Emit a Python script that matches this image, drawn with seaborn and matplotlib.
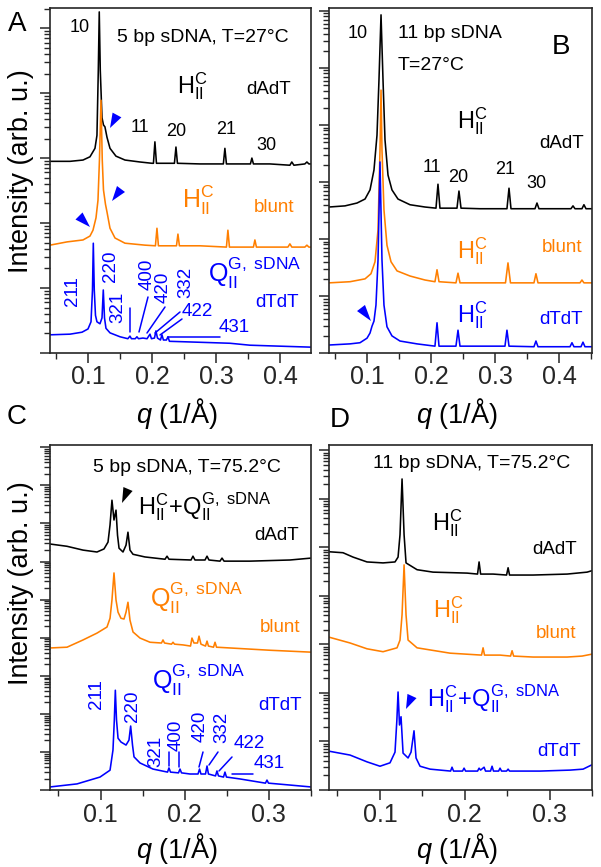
import numpy as np
import pandas as pd
import matplotlib
matplotlib.use("Agg")
import matplotlib.pyplot as plt
import seaborn as sns
from matplotlib.patches import Polygon
from matplotlib.lines import Line2D
from matplotlib.ticker import LogLocator, NullFormatter, FixedLocator, MultipleLocator, FormatStrFormatter

# curves: (q, log10 intensity)
a_dadt = [(0.040, 2.95), (0.0713, 2.95), (0.0916, 2.97), (0.1025, 3.02), (0.1103, 3.15), (0.1134, 3.35),
          (0.1155, 4.35), (0.1170, 5.25), (0.1186, 4.35), (0.1213, 3.62), (0.1236, 3.51), (0.1259, 3.48),
          (0.1291, 3.32), (0.1338, 3.15), (0.1431, 3.03), (0.1572, 2.97), (0.1806, 2.94), (0.1994, 2.92),
          (0.2017, 2.92), (0.2040, 3.25), (0.2064, 2.92), (0.2197, 2.92), (0.2345, 2.92), (0.2369, 3.17),
          (0.2392, 2.92), (0.2744, 2.91), (0.3110, 2.91), (0.3134, 3.15), (0.3158, 2.91), (0.3533, 2.91),
          (0.3556, 3.00), (0.3580, 2.91), (0.3838, 2.91), (0.4150, 2.89), (0.4180, 2.94), (0.4213, 2.89),
          (0.4384, 2.91), (0.4416, 2.94), (0.4447, 2.91), (0.4480, 2.91)]
a_blunt = [(0.040, 1.66), (0.0666, 1.71), (0.0916, 1.74), (0.1025, 1.80), (0.1072, 1.89), (0.1119, 2.08),
           (0.1150, 2.35), (0.1173, 2.97), (0.1197, 3.89), (0.1217, 2.97), (0.1236, 2.51), (0.1267, 2.29),
           (0.1291, 2.17), (0.1338, 1.92), (0.1416, 1.77), (0.1572, 1.69), (0.1884, 1.66), (0.2048, 1.65),
           (0.2072, 1.92), (0.2095, 1.65), (0.2377, 1.65), (0.2400, 1.83), (0.2423, 1.65), (0.2744, 1.65),
           (0.3158, 1.63), (0.3181, 1.89), (0.3205, 1.63), (0.3580, 1.63), (0.3603, 1.74), (0.3627, 1.63),
           (0.3838, 1.63), (0.4119, 1.63), (0.4150, 1.68), (0.4180, 1.63), (0.4384, 1.63), (0.4416, 1.66),
           (0.4447, 1.63), (0.4480, 1.63)]
a_dtdt = [(0.040, 0.28), (0.0713, 0.29), (0.0900, 0.32), (0.0994, 0.37), (0.1041, 0.48), (0.1064, 0.97),
          (0.1077, 1.69), (0.1092, 0.97), (0.1111, 0.58), (0.1134, 0.48), (0.1181, 0.45), (0.1213, 0.54),
          (0.1233, 0.97), (0.1252, 0.54), (0.1275, 0.38), (0.1338, 0.31), (0.1494, 0.25), (0.1617, 0.22),
          (0.1650, 0.26), (0.1673, 0.22), (0.1733, 0.22), (0.1759, 0.25), (0.1783, 0.22), (0.1853, 0.23),
          (0.1917, 0.22), (0.1963, 0.29), (0.1986, 0.22), (0.2033, 0.23), (0.2056, 0.34), (0.2080, 0.23),
          (0.2127, 0.20), (0.2150, 0.28), (0.2173, 0.20), (0.2220, 0.20), (0.2244, 0.25), (0.2267, 0.18),
          (0.2588, 0.17), (0.3213, 0.15), (0.3525, 0.12), (0.3838, 0.11), (0.4480, 0.09)]

b_dadt = [(0.040, 2.56), (0.0650, 2.58), (0.0838, 2.63), (0.0963, 2.70), (0.1041, 2.86), (0.1103, 3.21),
          (0.1150, 3.82), (0.1181, 4.79), (0.1213, 5.93), (0.1244, 4.79), (0.1275, 3.74), (0.1322, 3.12),
          (0.1384, 2.86), (0.1478, 2.70), (0.1666, 2.60), (0.1900, 2.56), (0.2072, 2.54), (0.2103, 2.96),
          (0.2134, 2.54), (0.2400, 2.54), (0.2431, 2.84), (0.2463, 2.54), (0.2759, 2.53), (0.3181, 2.53),
          (0.3213, 2.89), (0.3244, 2.53), (0.3619, 2.53), (0.3650, 2.63), (0.3681, 2.53), (0.3931, 2.53),
          (0.4181, 2.53), (0.4213, 2.58), (0.4244, 2.53), (0.4353, 2.53), (0.4384, 2.60), (0.4416, 2.53),
          (0.4510, 2.53)]
b_blunt = [(0.040, 1.23), (0.0728, 1.25), (0.0963, 1.30), (0.1056, 1.39), (0.1119, 1.60), (0.1166, 2.16),
           (0.1197, 3.56), (0.1213, 4.61), (0.1228, 3.56), (0.1259, 2.51), (0.1306, 1.89), (0.1369, 1.60),
           (0.1463, 1.44), (0.1666, 1.35), (0.1900, 1.28), (0.2056, 1.25), (0.2088, 1.46), (0.2119, 1.25),
           (0.2384, 1.23), (0.2416, 1.40), (0.2447, 1.23), (0.2759, 1.23), (0.3158, 1.23), (0.3197, 1.58),
           (0.3236, 1.23), (0.3603, 1.23), (0.3634, 1.39), (0.3666, 1.23), (0.4009, 1.23), (0.4322, 1.23),
           (0.4353, 1.28), (0.4384, 1.23), (0.4510, 1.23)]
b_dtdt = [(0.040, 0.14), (0.0728, 0.16), (0.0884, 0.18), (0.0994, 0.26), (0.1041, 0.35), (0.1072, 0.47),
          (0.1103, 0.56), (0.1134, 0.84), (0.1166, 1.63), (0.1197, 3.35), (0.1228, 1.63), (0.1259, 0.84),
          (0.1306, 0.46), (0.1384, 0.30), (0.1509, 0.21), (0.1775, 0.16), (0.2056, 0.12), (0.2088, 0.53),
          (0.2119, 0.12), (0.2384, 0.12), (0.2416, 0.40), (0.2447, 0.12), (0.2759, 0.12), (0.3150, 0.12),
          (0.3181, 0.40), (0.3213, 0.12), (0.3603, 0.11), (0.3634, 0.21), (0.3666, 0.11), (0.4009, 0.11),
          (0.4166, 0.11), (0.4197, 0.18), (0.4228, 0.11), (0.4338, 0.11), (0.4369, 0.19), (0.4400, 0.11),
          (0.4510, 0.11)]

c_dadt = [(0.040, 6.46), (0.0602, 6.40), (0.0792, 6.30), (0.0958, 6.25), (0.1041, 6.33), (0.1089, 6.51),
          (0.1113, 6.96), (0.1136, 7.61), (0.1160, 7.09), (0.1184, 7.35), (0.1202, 6.69), (0.1220, 6.35),
          (0.1267, 6.25), (0.1303, 6.43), (0.1326, 6.77), (0.1350, 6.30), (0.1386, 6.19), (0.1528, 6.12),
          (0.1766, 6.06), (0.1790, 6.14), (0.1813, 6.06), (0.2075, 6.04), (0.2098, 6.14), (0.2122, 6.04),
          (0.2241, 6.04), (0.2265, 6.14), (0.2288, 6.04), (0.2419, 6.01), (0.2443, 6.09), (0.2467, 6.01),
          (0.2775, 6.01), (0.3250, 6.04), (0.3500, 6.09)]
c_blunt = [(0.040, 3.73), (0.0602, 3.75), (0.0792, 3.94), (0.0958, 4.12), (0.1077, 4.28), (0.1113, 4.51),
           (0.1136, 4.99), (0.1160, 5.70), (0.1184, 4.99), (0.1208, 4.67), (0.1243, 4.51), (0.1279, 4.49),
           (0.1303, 4.67), (0.1326, 4.93), (0.1350, 4.46), (0.1386, 4.15), (0.1469, 3.99), (0.1588, 3.88),
           (0.1724, 3.86), (0.1742, 3.94), (0.1760, 3.86), (0.1843, 3.83), (0.1861, 3.88), (0.1879, 3.83),
           (0.1980, 3.81), (0.2069, 3.78), (0.2086, 3.99), (0.2110, 3.86), (0.2152, 3.86), (0.2170, 4.04),
           (0.2193, 3.83), (0.2247, 3.78), (0.2265, 3.91), (0.2282, 3.78), (0.2342, 3.75), (0.2360, 3.88),
           (0.2378, 3.75), (0.2538, 3.73), (0.3013, 3.67), (0.3500, 3.62)]
c_dtdt = [(0.040, 0.08), (0.0721, 0.16), (0.0994, 0.34), (0.1113, 0.52), (0.1148, 1.05), (0.1164, 1.84),
          (0.1176, 2.62), (0.1190, 1.84), (0.1208, 1.36), (0.1243, 1.26), (0.1303, 1.18), (0.1338, 1.31),
          (0.1358, 1.68), (0.1380, 1.18), (0.1398, 0.87), (0.1469, 0.71), (0.1623, 0.55), (0.1796, 0.47),
          (0.1813, 0.58), (0.1831, 0.47), (0.1926, 0.45), (0.1944, 0.55), (0.1962, 0.45), (0.2063, 0.42),
          (0.2158, 0.42), (0.2176, 0.55), (0.2193, 0.42), (0.2247, 0.42), (0.2265, 0.63), (0.2282, 0.42),
          (0.2366, 0.37), (0.2383, 0.50), (0.2401, 0.37), (0.2461, 0.34), (0.2478, 0.47), (0.2496, 0.34),
          (0.2657, 0.29), (0.2959, 0.18), (0.2977, 0.26), (0.2995, 0.18), (0.3250, 0.13), (0.3500, 0.08)]

d_dadt = [(0.040, 4.91), (0.0565, 4.89), (0.0683, 4.80), (0.0848, 4.70), (0.1037, 4.68), (0.1178, 4.70),
          (0.1214, 4.80), (0.1237, 5.26), (0.1261, 6.41), (0.1285, 5.26), (0.1308, 4.68), (0.1438, 4.54),
          (0.1626, 4.49), (0.2027, 4.47), (0.2151, 4.45), (0.2169, 4.70), (0.2187, 4.45), (0.2334, 4.45),
          (0.2493, 4.43), (0.2511, 4.58), (0.2528, 4.43), (0.2806, 4.43), (0.3207, 4.45), (0.3442, 4.49),
          (0.3500, 4.52)]
d_blunt = [(0.040, 3.15), (0.0648, 3.03), (0.0848, 2.91), (0.1037, 2.85), (0.1202, 2.93), (0.1237, 3.09),
           (0.1261, 3.61), (0.1285, 4.64), (0.1308, 3.61), (0.1332, 3.09), (0.1438, 2.93), (0.1827, 2.82),
           (0.2198, 2.78), (0.2216, 2.93), (0.2233, 2.78), (0.2417, 2.78), (0.2540, 2.76), (0.2558, 2.87),
           (0.2576, 2.76), (0.2806, 2.74), (0.3207, 2.74), (0.3383, 2.76), (0.3500, 2.80)]
d_dtdt = [(0.040, 0.80), (0.0648, 0.72), (0.0848, 0.58), (0.1001, 0.49), (0.1119, 0.56), (0.1178, 0.78),
          (0.1200, 1.44), (0.1214, 2.02), (0.1231, 1.34), (0.1249, 1.51), (0.1273, 0.76), (0.1332, 0.66),
          (0.1367, 0.78), (0.1402, 1.22), (0.1426, 0.66), (0.1473, 0.49), (0.1591, 0.43), (0.1833, 0.39),
          (0.1850, 0.47), (0.1868, 0.39), (0.1974, 0.39), (0.1992, 0.45), (0.2010, 0.39), (0.2151, 0.39),
          (0.2169, 0.45), (0.2187, 0.41), (0.2228, 0.47), (0.2245, 0.39), (0.2304, 0.39), (0.2322, 0.49),
          (0.2339, 0.39), (0.2399, 0.39), (0.2416, 0.45), (0.2434, 0.39), (0.2493, 0.39), (0.2511, 0.43),
          (0.2528, 0.39), (0.2888, 0.39), (0.3242, 0.41), (0.3395, 0.43), (0.3500, 0.52)]

x_ticks_ab = [0.1, 0.2, 0.3, 0.4]
x_ticks_cd = [0.1, 0.2, 0.3]

BLACK, ORANGE, BLUE = "#000000", "#FF7F00", "#0000FF"

sns.set_style("ticks")
plt.rcParams["font.family"] = ["Liberation Sans", "DejaVu Sans"]
plt.rcParams["mathtext.fontset"] = "custom"
plt.rcParams["mathtext.rm"] = "Liberation Sans"
plt.rcParams["mathtext.it"] = "Liberation Sans:italic"
plt.rcParams["axes.linewidth"] = 1.2

W, H = 601, 867
fig = plt.figure(figsize=(W / 100, H / 100), dpi=100)


def rect(l, t, r, b):
    return [l / W, 1 - b / H, (r - l) / W, (b - t) / H]


def put(px, py, s, size=13, color=BLACK, ha="center", va="center", **kw):
    fig.text(px / W, 1 - py / H, s, size=size, color=color, ha=ha, va=va, **kw)


def seg(p0, p1, color=BLUE):
    fig.add_artist(Line2D([p0[0] / W, p1[0] / W], [1 - p0[1] / H, 1 - p1[1] / H],
                          transform=fig.transFigure, color=color, lw=1.1))


def tri(tip, base, w=10, color=BLUE):
    dx, dy = tip[0] - base[0], tip[1] - base[1]
    n = np.hypot(dx, dy)
    ox, oy = -dy / n * w / 2, dx / n * w / 2
    pts = [tip, (base[0] + ox, base[1] + oy), (base[0] - ox, base[1] - oy)]
    fig.add_artist(Polygon([(x / W, 1 - y / H) for x, y in pts], closed=True,
                           transform=fig.transFigure, color=color, lw=0))


def draw(ax, pts, color):
    df = pd.DataFrame(pts, columns=["q", "logi"])
    df["I"] = 10 ** df["logi"]
    sns.lineplot(data=df, x="q", y="I", ax=ax, color=color, lw=1.15, errorbar=None, sort=False)


def style(ax, xlim, top, xt):
    ax.set_yscale("log")
    ax.set_xlim(*xlim)
    ax.set_ylim(1, 10 ** top)
    ax.yaxis.set_major_locator(LogLocator(base=10, numticks=30))
    ax.yaxis.set_minor_locator(LogLocator(base=10, subs=np.arange(2, 10) * 1.0, numticks=30))
    ax.yaxis.set_major_formatter(NullFormatter())
    ax.yaxis.set_minor_formatter(NullFormatter())
    ax.xaxis.set_major_locator(FixedLocator(xt))
    ax.xaxis.set_minor_locator(MultipleLocator(0.05))
    ax.xaxis.set_major_formatter(FormatStrFormatter("%.1f"))
    ax.tick_params(which="major", direction="out", length=7, width=1.1, labelsize=18, pad=2)
    ax.tick_params(which="minor", direction="out", length=4, width=1.0)
    ax.set_xlabel("")
    ax.set_ylabel("")
    for s in ax.spines.values():
        s.set_visible(True)


H_LAB = r"$\mathregular{H_{II}^{C}}$"
Q_LAB = r"$\mathregular{Q_{II}^{G,\ sDNA}}$"
HQ_LAB = r"$\mathregular{H_{II}^{C}\!+\!Q_{II}^{G,\ sDNA}}$"
Q_AX = r"$q$ (1/Å)"
TAG = 13.5

# panel A
axA = fig.add_axes(rect(50, 8, 311, 353))
draw(axA, a_dadt, BLACK)
draw(axA, a_blunt, ORANGE)
draw(axA, a_dtdt, BLUE)
style(axA, (0.04, 0.448), 5.31, x_ticks_ab)

# panel B
axB = fig.add_axes(rect(329, 8, 592, 353))
draw(axB, b_dadt, BLACK)
draw(axB, b_blunt, ORANGE)
draw(axB, b_dtdt, BLUE)
style(axB, (0.04, 0.451), 6.05, x_ticks_ab)

# panel C
axC = fig.add_axes(rect(50, 445, 311, 790))
draw(axC, c_dadt, BLACK)
draw(axC, c_blunt, ORANGE)
draw(axC, c_dtdt, BLUE)
style(axC, (0.04, 0.35), 9.06, x_ticks_cd)

# panel D
axD = fig.add_axes(rect(329, 445, 592, 790))
draw(axD, d_dadt, BLACK)
draw(axD, d_blunt, ORANGE)
draw(axD, d_dtdt, BLUE)
style(axD, (0.04, 0.35), 7.11, x_ticks_cd)

# axis labels
for x, y in [(177, 413), (457, 413), (177, 849), (457, 849)]:
    put(x, y, Q_AX, size=19.5)
put(21, 171, "Intensity (arb. u.)", size=19.5, rotation=90)
put(21, 583, "Intensity (arb. u.)", size=19.5, rotation=90)

# ---- annotations A
put(17, 24, "A", size=20)
put(80, 27, "10")
put(203, 37, "5 bp sDNA, T=27°C", size=14)
put(177, 93, H_LAB, size=17, ha="left", va="baseline")
put(269, 89, "dAdT", size=TAG)
for s, x, y in [("11", 140, 128), ("20", 176, 132), ("21", 226, 130), ("30", 266, 146)]:
    put(x, y, s)
put(182, 208, H_LAB, size=18, color=ORANGE, ha="left", va="baseline")
put(274, 207, "blunt", size=TAG, color=ORANGE)
put(208, 282, Q_LAB, size=18, color=BLUE, ha="left", va="baseline")
put(277, 302, "dTdT", size=TAG, color=BLUE)
for s, x, y in [("211", 73, 291), ("220", 111, 266), ("321", 118, 307), ("400", 147, 274),
                ("420", 163, 287), ("332", 186, 282)]:
    put(x, y, s, size=13.5, color=BLUE, rotation=90)
put(197, 312, "422", size=13.5, color=BLUE)
put(234, 327, "431", size=13.5, color=BLUE)
for p0, p1 in [((130, 308), (130, 332)), ((148, 297), (139, 332)), ((165, 307), (147, 333)),
               ((180, 312), (155, 333)), ((182, 319), (160, 335)), ((168, 337), (220, 337))]:
    seg(p0, p1)
tri((110, 128), (117, 115))
tri((112, 201), (121, 189))
tri((90, 227), (79, 216))

# ---- annotations B
put(561, 47, "B", size=20)
put(358, 33, "10")
put(398, 33, "11 bp sDNA", size=14, ha="left")
put(398, 65, "T=27°C", size=14, ha="left")
put(457, 128, H_LAB, size=17, ha="left", va="baseline")
put(562, 143, "dAdT", size=TAG)
for s, x, y in [("11", 432, 168), ("20", 458, 177), ("21", 505, 170), ("30", 536, 183)]:
    put(x, y, s)
put(457, 258, H_LAB, size=17, color=ORANGE, ha="left", va="baseline")
put(562, 248, "blunt", size=TAG, color=ORANGE)
put(457, 322, H_LAB, size=17, color=BLUE, ha="left", va="baseline")
put(561, 320, "dTdT", size=TAG, color=BLUE)
tri((371, 321), (361, 308))

# ---- annotations C
put(17, 417, "C", size=20)
put(187, 467, "5 bp sDNA, T=75.2°C", size=14)
put(138, 515, HQ_LAB, size=17, ha="left", va="baseline")
put(277, 535, "dAdT", size=TAG)
tri((122, 503), (128, 489), color=BLACK)
put(150, 607, Q_LAB, size=18, color=ORANGE, ha="left", va="baseline")
put(280, 628, "blunt", size=TAG, color=ORANGE)
put(152, 689, Q_LAB, size=18, color=BLUE, ha="left", va="baseline")
put(280, 705, "dTdT", size=TAG, color=BLUE)
for s, x, y in [("211", 97, 694), ("220", 132, 706), ("321", 156, 751), ("400", 176, 735),
                ("420", 200, 726), ("332", 222, 727)]:
    put(x, y, s, size=13.5, color=BLUE, rotation=90)
put(249, 743, "422", size=13.5, color=BLUE)
put(269, 763, "431", size=13.5, color=BLUE)
for p0, p1 in [((169, 752), (169, 766)), ((179, 752), (179, 767)), ((203, 752), (199, 767)),
               ((218, 752), (209, 765)), ((232, 757), (219, 771)), ((232, 774), (253, 774))]:
    seg(p0, p1)

# ---- annotations D
put(340, 420, "D", size=20)
put(472, 463, "11 bp sDNA, T=75.2°C", size=14)
put(432, 530, H_LAB, size=17, ha="left", va="baseline")
put(555, 550, "dAdT", size=TAG)
put(433, 617, H_LAB, size=17, color=ORANGE, ha="left", va="baseline")
put(556, 633, "blunt", size=TAG, color=ORANGE)
put(427, 707, HQ_LAB, size=17, color=BLUE, ha="left", va="baseline")
tri((406, 709), (412, 696))
put(559, 752, "dTdT", size=TAG, color=BLUE)

fig.savefig("out.png", dpi=100)
